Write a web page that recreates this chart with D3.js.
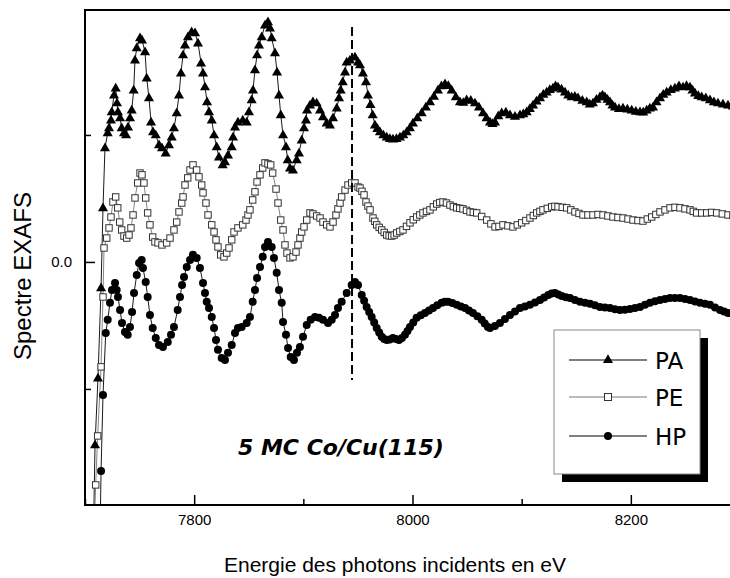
<!DOCTYPE html>
<html>
<head>
<meta charset="utf-8">
<script src="https://cdn.jsdelivr.net/npm/d3@7"></script>
<style>
  html, body { margin: 0; padding: 0; background: #fff; }
  svg { display: block; }
</style>
</head>
<body>
<div id="chart"></div>
<script>
// ---------------- DATA ----------------
const seriesNames = ["PA", "PE", "HP"];
const xTickMajor = [7800, 8000, 8200];
const xTickMinor = [7700, 7900, 8100];
const yTickMajor = [0.0];
const yTickMinor = [-0.5, 0.5];
const edgeEnergy = 7944.6;          // dashed reference line
const sampleLabel = "5 MC Co/Cu(115)";

// PA : [energy (eV), EXAFS signal]
const paData = [
[7707.3,-1.173],[7709.2,-0.720],[7711.9,-0.457],[7714.7,-0.102],[7716.5,0.213],[7718.3,0.449],
[7720.8,0.508],[7722.0,0.528],[7723.8,0.559],[7724.5,0.591],[7726.6,0.657],[7728.1,0.685],
[7729.3,0.626],[7730.2,0.591],[7732.1,0.567],[7733.6,0.528],[7735.7,0.508],[7737.6,0.500],
[7739.4,0.531],[7741.2,0.567],[7742.8,0.598],[7744.6,0.677],[7745.8,0.795],[7747.4,0.843],
[7750.4,0.882],[7752.2,0.874],[7755.0,0.827],[7756.5,0.724],[7758.6,0.646],[7760.5,0.551],
[7762.3,0.512],[7764.8,0.500],[7767.8,0.461],[7770.5,0.449],[7773.9,0.429],[7776.9,0.461],
[7779.4,0.492],[7781.5,0.528],[7784.0,0.587],[7786.1,0.657],[7787.9,0.744],[7789.8,0.815],
[7791.6,0.854],[7794.3,0.886],[7797.7,0.906],[7800.8,0.902],[7803.5,0.862],[7806.3,0.783],
[7808.1,0.744],[7809.9,0.689],[7811.8,0.630],[7813.6,0.591],[7816.1,0.559],[7818.2,0.500],
[7820.6,0.453],[7822.7,0.413],[7826.1,0.382],[7828.2,0.394],[7831.0,0.421],[7834.4,0.453],
[7835.6,0.492],[7837.4,0.531],[7840.1,0.551],[7844.5,0.559],[7848.1,0.551],[7850.2,0.591],
[7852.7,0.638],[7853.9,0.677],[7855.7,0.756],[7857.6,0.815],[7859.4,0.854],[7861.9,0.886],
[7864.9,0.933],[7867.6,0.945],[7869.5,0.921],[7871.0,0.882],[7874.0,0.823],[7875.9,0.748],
[7877.7,0.657],[7879.3,0.579],[7881.4,0.500],[7884.1,0.453],[7885.7,0.402],[7887.8,0.370],
[7890.5,0.362],[7893.9,0.402],[7896.0,0.429],[7898.5,0.480],[7900.6,0.528],[7902.4,0.559],
[7903.4,0.598],[7906.1,0.618],[7908.8,0.630],[7912.2,0.626],[7915.3,0.598],[7918.0,0.571],
[7921.4,0.547],[7924.4,0.539],[7927.2,0.567],[7930.6,0.606],[7932.7,0.646],[7934.2,0.677],
[7936.1,0.709],[7938.2,0.748],[7939.7,0.787],[7942.7,0.795],[7947.3,0.807],[7950.1,0.787],
[7951.9,0.776],[7954.6,0.744],[7957.4,0.709],[7959.2,0.657],[7961.5,0.620],[7963.5,0.579],
[7965.6,0.539],[7967.8,0.525],[7970.2,0.512],[7973.3,0.500],[7976.4,0.492],[7979.3,0.486],
[7982.1,0.484],[7985.3,0.486],[7988.5,0.492],[7991.6,0.500],[7994.7,0.512],[7997.6,0.528],
[8000.4,0.547],[8004.4,0.567],[8008.4,0.587],[8012.2,0.610],[8016.0,0.630],[8019.6,0.652],
[8023.3,0.677],[8026.5,0.693],[8029.8,0.701],[8032.8,0.694],[8035.9,0.677],[8039.7,0.650],
[8043.5,0.630],[8046.5,0.628],[8049.6,0.638],[8053.4,0.636],[8057.2,0.626],[8060.9,0.610],
[8064.6,0.587],[8067.8,0.567],[8071.0,0.551],[8073.3,0.545],[8075.6,0.551],[8078.6,0.575],
[8081.7,0.587],[8085.5,0.590],[8089.3,0.579],[8093.9,0.573],[8098.5,0.579],[8101.5,0.583],
[8104.6,0.591],[8107.5,0.604],[8110.4,0.618],[8113.6,0.633],[8116.8,0.646],[8119.8,0.660],
[8122.9,0.669],[8125.8,0.679],[8128.7,0.685],[8131.0,0.693],[8133.3,0.689],[8136.5,0.681],
[8139.7,0.669],[8142.7,0.657],[8145.8,0.650],[8148.7,0.652],[8151.6,0.646],[8155.6,0.636],
[8159.6,0.630],[8162.4,0.622],[8165.3,0.626],[8168.5,0.640],[8171.7,0.650],[8174.0,0.657],
[8176.3,0.650],[8178.6,0.640],[8180.9,0.630],[8183.2,0.618],[8185.5,0.610],[8189.1,0.604],
[8192.8,0.606],[8196.8,0.602],[8200.8,0.598],[8204.6,0.593],[8208.4,0.591],[8211.4,0.590],
[8214.5,0.598],[8217.4,0.606],[8220.3,0.610],[8223.5,0.630],[8226.7,0.646],[8229.7,0.660],
[8232.8,0.669],[8236.6,0.679],[8240.4,0.685],[8244.1,0.693],[8247.8,0.689],[8251.0,0.694],
[8254.2,0.689],[8256.5,0.677],[8258.8,0.665],[8261.8,0.655],[8264.9,0.650],[8268.7,0.646],
[8272.5,0.638],[8276.1,0.630],[8279.8,0.626],[8284.4,0.622],[8289.0,0.618],[8293.5,0.614],
[8298.1,0.610]
];

// PE
const peData = [
[7708.2,-1.094],[7709.8,-0.878],[7711.6,-0.685],[7714.7,-0.413],[7716.5,-0.138],[7717.4,0.055],
[7719.9,0.094],[7722.0,0.134],[7723.8,0.177],[7725.6,0.236],[7728.1,0.256],[7730.0,0.213],
[7731.8,0.157],[7733.6,0.126],[7735.7,0.102],[7738.2,0.094],[7740.3,0.106],[7742.1,0.134],
[7744.0,0.185],[7745.8,0.252],[7748.3,0.311],[7750.4,0.350],[7752.2,0.343],[7754.0,0.311],
[7755.6,0.252],[7757.4,0.193],[7759.5,0.146],[7762.0,0.098],[7764.1,0.079],[7766.9,0.075],
[7770.5,0.067],[7774.8,0.075],[7777.9,0.094],[7781.5,0.126],[7784.0,0.157],[7786.1,0.197],
[7788.6,0.232],[7789.8,0.256],[7791.6,0.303],[7794.1,0.331],[7796.2,0.362],[7798.9,0.382],
[7802.3,0.362],[7804.4,0.335],[7806.9,0.303],[7808.1,0.272],[7810.8,0.232],[7812.7,0.185],
[7816.1,0.146],[7818.2,0.118],[7820.0,0.087],[7821.8,0.059],[7824.3,0.028],[7827.3,0.020],
[7829.8,0.035],[7831.9,0.055],[7834.4,0.087],[7836.5,0.118],[7840.1,0.134],[7844.5,0.146],
[7847.5,0.165],[7849.3,0.185],[7851.1,0.205],[7853.6,0.244],[7855.7,0.276],[7857.6,0.315],
[7860.3,0.343],[7862.8,0.370],[7864.9,0.390],[7867.6,0.386],[7870.1,0.382],[7871.9,0.350],
[7875.0,0.287],[7876.8,0.232],[7879.3,0.165],[7881.4,0.126],[7883.2,0.067],[7885.0,0.035],
[7887.8,0.016],[7890.5,0.020],[7893.3,0.039],[7895.1,0.067],[7896.9,0.094],[7898.5,0.118],
[7900.6,0.138],[7903.1,0.165],[7906.1,0.193],[7908.8,0.189],[7912.2,0.181],[7915.3,0.173],
[7918.0,0.157],[7921.4,0.146],[7924.4,0.138],[7927.2,0.157],[7929.9,0.185],[7931.7,0.209],
[7933.6,0.232],[7935.1,0.256],[7938.2,0.283],[7940.9,0.303],[7944.3,0.311],[7947.3,0.311],
[7950.1,0.295],[7951.9,0.291],[7953.7,0.278],[7955.6,0.264],[7957.4,0.236],[7959.2,0.220],
[7961.1,0.205],[7963.8,0.173],[7965.5,0.160],[7967.2,0.146],[7969.5,0.136],[7971.8,0.126],
[7974.1,0.116],[7976.4,0.106],[7978.6,0.103],[7980.9,0.102],[7983.2,0.106],[7985.5,0.114],
[7988.4,0.120],[7991.3,0.126],[7994.5,0.140],[7997.7,0.154],[8000.7,0.166],[8003.8,0.177],
[8006.7,0.185],[8009.6,0.193],[8012.8,0.199],[8016.0,0.205],[8019.1,0.217],[8022.2,0.228],
[8025.0,0.234],[8027.9,0.236],[8031.1,0.232],[8034.3,0.224],[8037.4,0.218],[8040.5,0.213],
[8043.3,0.211],[8046.2,0.209],[8049.5,0.203],[8052.7,0.197],[8055.7,0.195],[8058.8,0.193],
[8063.4,0.179],[8068.0,0.165],[8071.8,0.150],[8075.6,0.138],[8079.2,0.140],[8082.9,0.146],
[8087.4,0.142],[8092.0,0.138],[8096.0,0.146],[8100.0,0.154],[8103.8,0.163],[8107.6,0.173],
[8110.7,0.183],[8113.8,0.193],[8116.7,0.199],[8119.5,0.205],[8123.5,0.211],[8127.5,0.217],
[8130.4,0.219],[8133.3,0.217],[8137.2,0.215],[8141.2,0.213],[8145.0,0.205],[8148.8,0.197],
[8152.5,0.191],[8156.2,0.185],[8160.7,0.185],[8165.3,0.185],[8169.9,0.187],[8174.5,0.185],
[8179.0,0.181],[8183.6,0.177],[8188.2,0.175],[8192.8,0.173],[8197.4,0.169],[8202.0,0.165],
[8206.5,0.163],[8211.1,0.161],[8215.1,0.169],[8219.1,0.177],[8222.9,0.187],[8226.7,0.197],
[8231.3,0.205],[8235.9,0.213],[8240.4,0.215],[8245.0,0.213],[8249.6,0.209],[8254.2,0.205],
[8257.2,0.199],[8260.3,0.193],[8264.9,0.193],[8269.5,0.193],[8274.0,0.195],[8278.6,0.193],
[8283.8,0.189],[8289.0,0.185],[8293.5,0.183],[8298.1,0.181]
];

// HP
const hpData = [
[7713.7,-1.094],[7714.7,-0.823],[7716.5,-0.524],[7719.0,-0.280],[7720.8,-0.228],[7722.9,-0.161],
[7724.7,-0.110],[7727.5,-0.083],[7729.0,-0.110],[7730.2,-0.138],[7732.1,-0.189],[7733.9,-0.240],
[7736.6,-0.276],[7739.1,-0.287],[7741.2,-0.256],[7743.1,-0.197],[7744.9,-0.122],[7747.4,-0.051],
[7749.5,-0.004],[7751.9,0.008],[7753.1,-0.024],[7755.6,-0.079],[7757.4,-0.138],[7759.5,-0.209],
[7762.0,-0.260],[7764.8,-0.299],[7767.8,-0.327],[7771.4,-0.335],[7775.8,-0.315],[7778.8,-0.287],
[7781.5,-0.256],[7784.9,-0.189],[7787.0,-0.138],[7788.9,-0.091],[7790.7,-0.059],[7793.2,-0.020],
[7796.2,0.008],[7798.9,0.028],[7802.3,0.016],[7805.3,-0.024],[7808.1,-0.083],[7809.9,-0.122],
[7811.5,-0.157],[7813.6,-0.181],[7816.1,-0.217],[7818.2,-0.260],[7820.0,-0.307],[7821.8,-0.346],
[7825.2,-0.378],[7828.2,-0.386],[7831.0,-0.358],[7834.4,-0.327],[7837.4,-0.280],[7840.1,-0.260],
[7843.5,-0.256],[7848.1,-0.240],[7851.1,-0.217],[7853.6,-0.157],[7855.7,-0.110],[7857.6,-0.063],
[7860.3,-0.020],[7862.8,0.020],[7864.9,0.059],[7867.6,0.079],[7871.0,0.059],[7873.1,0.016],
[7875.6,-0.043],[7877.7,-0.110],[7880.2,-0.161],[7881.4,-0.236],[7884.1,-0.287],[7886.0,-0.339],
[7888.4,-0.374],[7891.4,-0.386],[7894.2,-0.358],[7896.9,-0.335],[7899.7,-0.295],[7903.1,-0.248],
[7906.7,-0.228],[7910.7,-0.217],[7914.3,-0.220],[7918.0,-0.228],[7922.6,-0.240],[7926.0,-0.228],
[7929.0,-0.209],[7931.7,-0.181],[7935.1,-0.157],[7939.7,-0.122],[7944.3,-0.091],[7947.3,-0.079],
[7950.1,-0.091],[7953.5,-0.130],[7955.7,-0.153],[7958.0,-0.177],[7960.3,-0.197],[7962.6,-0.217],
[7964.9,-0.238],[7967.2,-0.260],[7969.5,-0.278],[7971.8,-0.295],[7974.1,-0.303],[7976.4,-0.307],
[7979.2,-0.305],[7982.1,-0.299],[7984.8,-0.303],[7987.6,-0.307],[7990.3,-0.299],[7993.1,-0.287],
[7995.4,-0.272],[7997.7,-0.256],[8000.7,-0.238],[8003.8,-0.220],[8007.6,-0.210],[8011.4,-0.201],
[8015.1,-0.191],[8018.8,-0.181],[8022.7,-0.171],[8026.7,-0.161],[8029.6,-0.157],[8032.5,-0.157],
[8036.5,-0.162],[8040.5,-0.169],[8044.3,-0.175],[8048.1,-0.181],[8051.7,-0.191],[8055.4,-0.201],
[8059.4,-0.214],[8063.4,-0.228],[8066.2,-0.242],[8069.1,-0.256],[8071.0,-0.260],[8075.5,-0.252],
[8080.1,-0.240],[8084.7,-0.225],[8089.3,-0.209],[8093.9,-0.195],[8098.5,-0.181],[8103.0,-0.175],
[8107.6,-0.169],[8112.2,-0.160],[8116.8,-0.150],[8120.6,-0.140],[8124.4,-0.130],[8127.4,-0.124],
[8130.5,-0.122],[8133.6,-0.128],[8136.7,-0.134],[8140.5,-0.139],[8144.3,-0.142],[8148.8,-0.150],
[8153.4,-0.157],[8158.0,-0.161],[8162.6,-0.165],[8167.1,-0.171],[8171.7,-0.177],[8176.3,-0.179],
[8180.9,-0.181],[8185.5,-0.186],[8190.1,-0.189],[8194.6,-0.188],[8199.2,-0.185],[8203.8,-0.181],
[8208.4,-0.177],[8213.0,-0.169],[8217.5,-0.161],[8222.1,-0.155],[8226.7,-0.150],[8231.3,-0.146],
[8235.9,-0.142],[8240.4,-0.142],[8245.0,-0.142],[8249.6,-0.146],[8254.2,-0.150],[8258.8,-0.156],
[8263.3,-0.161],[8267.9,-0.165],[8272.5,-0.169],[8277.1,-0.179],[8281.7,-0.189],[8285.4,-0.195],
[8289.0,-0.201],[8293.5,-0.205],[8298.1,-0.209]
];

// ---------------- CHART ----------------
const W = 730, H = 578;
const plot = { left: 85, top: 10, right: 740, bottom: 505 };

const svg = d3.select("#chart").append("svg")
  .attr("width", W).attr("height", H)
  .attr("viewBox", `0 0 ${W} ${H}`);

const x = d3.scaleLinear().domain([7700, 8300]).range([plot.left, plot.right]);
const y = d3.scaleLinear().domain([-0.957, 0.992]).range([plot.bottom, plot.top]);

svg.append("defs").append("clipPath").attr("id", "clip")
  .append("rect")
  .attr("x", plot.left).attr("y", plot.top)
  .attr("width", plot.right - plot.left).attr("height", plot.bottom - plot.top);

const g = svg.append("g").attr("clip-path", "url(#clip)");

const line = d3.line().x(d => x(d[0])).y(d => y(d[1]));

const styles = {
  PA: { data: paData, line: "#000" },
  PE: { data: peData, line: "#777" },
  HP: { data: hpData, line: "#000" }
};

// lines first
seriesNames.forEach(name => {
  g.append("path").datum(styles[name].data)
    .attr("d", line)
    .attr("fill", "none")
    .attr("stroke", styles[name].line)
    .attr("stroke-width", 0.9);
});

// markers
const tri = d3.symbol().type(d3.symbolTriangle).size(44);
g.append("g").selectAll("path").data(paData).join("path")
  .attr("d", tri)
  .attr("transform", d => `translate(${x(d[0])},${y(d[1]) + 0.5})`)
  .attr("fill", "#000");

g.append("g").selectAll("rect").data(peData).join("rect")
  .attr("x", d => x(d[0]) - 3.2).attr("y", d => y(d[1]) - 3.2)
  .attr("width", 6.4).attr("height", 6.4)
  .attr("fill", "#fff").attr("stroke", "#333").attr("stroke-width", 1);

g.append("g").selectAll("circle").data(hpData).join("circle")
  .attr("cx", d => x(d[0])).attr("cy", d => y(d[1]))
  .attr("r", 4).attr("fill", "#000");

// dashed reference line
g.append("line")
  .attr("x1", x(edgeEnergy)).attr("x2", x(edgeEnergy))
  .attr("y1", y(0.925)).attr("y2", y(-0.465))
  .attr("stroke", "#000").attr("stroke-width", 2)
  .attr("stroke-dasharray", "9,4");

// frame
svg.append("line").attr("x1", plot.left).attr("x2", plot.right + 10)
  .attr("y1", plot.top).attr("y2", plot.top)
  .attr("stroke", "#000").attr("stroke-width", 2);
svg.append("line").attr("x1", plot.left).attr("x2", plot.left)
  .attr("y1", plot.top - 1).attr("y2", plot.bottom + 1)
  .attr("stroke", "#000").attr("stroke-width", 2);
svg.append("line").attr("x1", plot.left - 1).attr("x2", plot.right + 10)
  .attr("y1", plot.bottom).attr("y2", plot.bottom)
  .attr("stroke", "#000").attr("stroke-width", 2);

// x axis
const xAxis = svg.append("g").attr("transform", `translate(0,${plot.bottom})`)
  .call(d3.axisBottom(x).tickValues(xTickMajor).tickSize(-10).tickPadding(9)
    .tickFormat(d3.format("d")));
const xMinor = svg.append("g").attr("transform", `translate(0,${plot.bottom})`)
  .call(d3.axisBottom(x).tickValues(xTickMinor).tickSize(-6).tickFormat(""));

// y axis
const yAxis = svg.append("g").attr("transform", `translate(${plot.left},0)`)
  .call(d3.axisLeft(y).tickValues(yTickMajor).tickSize(-10).tickPadding(13)
    .tickFormat(d3.format(".1f")));
const yMinor = svg.append("g").attr("transform", `translate(${plot.left},0)`)
  .call(d3.axisLeft(y).tickValues(yTickMinor).tickSize(-6).tickFormat(""));

[xAxis, xMinor, yAxis, yMinor].forEach(a => {
  a.select(".domain").remove();
  a.selectAll(".tick line").attr("stroke", "#000").attr("stroke-width", 1.5);
  a.selectAll("text").attr("font-family", "Liberation Sans, Arial, sans-serif")
    .attr("font-size", 15).attr("fill", "#000");
});

// axis titles
svg.append("text")
  .attr("x", 395).attr("y", 572)
  .attr("text-anchor", "middle")
  .attr("font-family", "'Comic Sans MS', 'Liberation Sans', Arial, sans-serif")
  .attr("font-size", 21)
  .text("Energie des photons incidents en eV");

svg.append("text")
  .attr("transform", "translate(31,276) rotate(-90)")
  .attr("text-anchor", "middle")
  .attr("font-family", "Liberation Sans, Arial, sans-serif")
  .attr("font-size", 24)
  .text("Spectre EXAFS");

// sample annotation
svg.append("text")
  .attr("x", 238).attr("y", 455)
  .attr("font-family", "'Comic Sans MS', 'DejaVu Sans', sans-serif")
  .attr("font-size", 22).attr("font-weight", "bold").attr("font-style", "italic")
  .text(sampleLabel);

// legend
const lg = { x: 554, y: 330, w: 146, h: 144 };
svg.append("rect").attr("x", lg.x + 8).attr("y", lg.y + 8)
  .attr("width", lg.w).attr("height", lg.h).attr("fill", "#000");
svg.append("rect").attr("x", lg.x).attr("y", lg.y)
  .attr("width", lg.w).attr("height", lg.h)
  .attr("fill", "#fff").attr("stroke", "#888").attr("stroke-width", 1);

const legendRows = [30, 67, 106];
seriesNames.forEach((name, i) => {
  const yy = lg.y + legendRows[i];
  svg.append("line").attr("x1", lg.x + 15).attr("x2", lg.x + 93)
    .attr("y1", yy).attr("y2", yy)
    .attr("stroke", styles[name].line).attr("stroke-width", 1);
  const mx = lg.x + 54;
  if (name === "PA") {
    svg.append("path").attr("d", tri).attr("transform", `translate(${mx},${yy})`).attr("fill", "#000");
  } else if (name === "PE") {
    svg.append("rect").attr("x", mx - 3.5).attr("y", yy - 3.5).attr("width", 7).attr("height", 7)
      .attr("fill", "#fff").attr("stroke", "#333");
  } else {
    svg.append("circle").attr("cx", mx).attr("cy", yy).attr("r", 4).attr("fill", "#000");
  }
  svg.append("text").attr("x", lg.x + 101).attr("y", yy + 9)
    .attr("font-family", "'Comic Sans MS', 'DejaVu Sans', sans-serif")
    .attr("font-size", 23)
    .text(name);
});
</script>
</body>
</html>
